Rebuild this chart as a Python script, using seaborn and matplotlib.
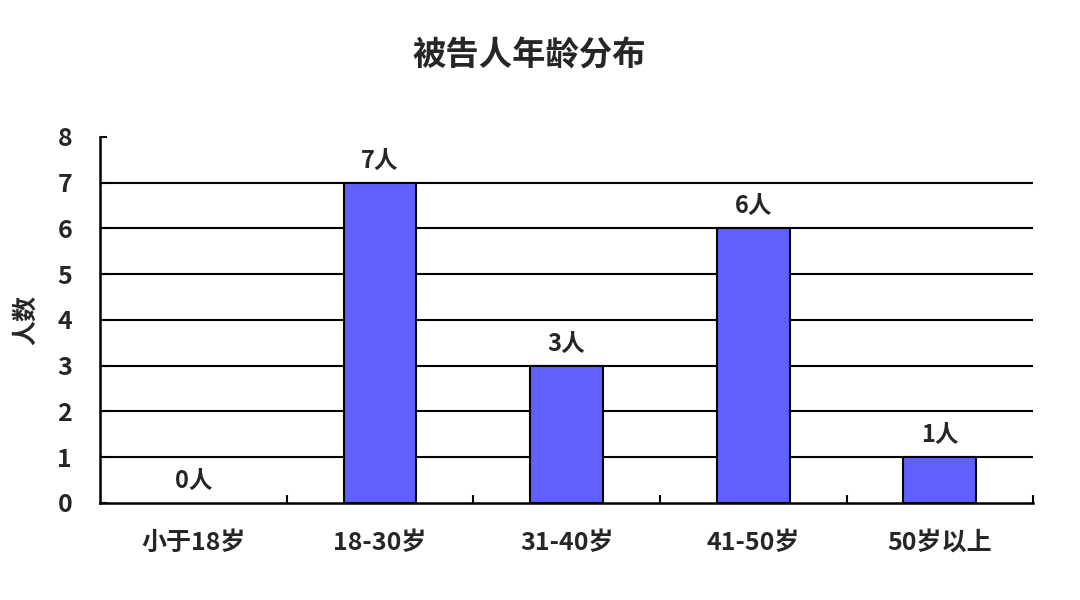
import matplotlib
matplotlib.use("Agg")
import matplotlib.pyplot as plt
import seaborn as sns
import pandas as pd
from matplotlib.ticker import FixedLocator

# ── Data ────────────────────────────────────────────────────────────────────────
AGE_GROUPS = ["小于18岁", "18-30岁", "31-40岁", "41-50岁", "50岁以上"]
COUNTS     = [0, 7, 3, 6, 1]
Y_TICKS    = [0, 1, 2, 3, 4, 5, 6, 7, 8]
TITLE      = "被告人年龄分布"
Y_LABEL    = "人数"

sns.set_style("white")
plt.rcParams["font.family"] = ["Noto Sans CJK SC", "DejaVu Sans"]

df = pd.DataFrame({"group": AGE_GROUPS, "count": COUNTS})

fig = plt.figure(figsize=(10.8, 6), dpi=100)
ax = fig.add_axes([0.0926, 0.162, 0.864, 0.61])

# gridlines first so bars sit on top
for y in Y_TICKS[1:-1]:
    ax.axhline(y, color="black", linewidth=1.5, zorder=0)

sns.barplot(data=df, x="group", y="count", color="#6060FF", saturation=1,
            width=0.39, edgecolor="black", linewidth=1.5, ax=ax, zorder=2)

# hide the outline of empty bars
for patch in ax.patches:
    if patch.get_height() == 0:
        patch.set_linewidth(0)

for i, v in enumerate(COUNTS):
    ax.text(i, v + 0.22, f"{v}人", ha="center", va="bottom",
            fontsize=17, fontweight="heavy")

ax.set_xlim(-0.5, len(AGE_GROUPS) - 0.5)
ax.set_ylim(Y_TICKS[0], Y_TICKS[-1])
ax.set_yticks(Y_TICKS)
ax.set_yticklabels([str(t) for t in Y_TICKS], fontsize=18, fontweight="heavy")
ax.set_xticks(range(len(AGE_GROUPS)))
ax.set_xticklabels(AGE_GROUPS, fontsize=18, fontweight="heavy")
ax.xaxis.set_minor_locator(FixedLocator([i + 0.5 for i in range(len(AGE_GROUPS))]))

ax.tick_params(axis="x", which="major", length=0, pad=20)
ax.tick_params(axis="x", which="minor", direction="in", length=6, width=1.5,
               color="black", bottom=True)
ax.tick_params(axis="y", which="major", direction="in", length=5, width=1.5,
               color="black", left=True, pad=20)

for side in ["top", "right"]:
    ax.spines[side].set_visible(False)
for side in ["left", "bottom"]:
    ax.spines[side].set_color("black")
    ax.spines[side].set_linewidth(1.8)

ax.set_xlabel("")
ax.set_ylabel(Y_LABEL, fontsize=18, fontweight="heavy", labelpad=14)
fig.suptitle(TITLE, fontsize=24, fontweight="heavy", x=0.49, y=0.935)

fig.savefig("out.png", dpi=100, facecolor="white")
